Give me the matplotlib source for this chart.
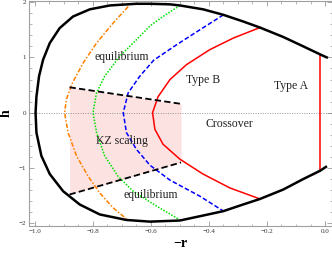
import numpy as np
import matplotlib.pyplot as plt
from matplotlib.ticker import MultipleLocator

plt.rcParams['font.family'] = ['Liberation Serif', 'DejaVu Serif']

# outer boundary (black), from the right end, over the top, around and back
black_x = [0.006, -0.015, -0.075, -0.144, -0.224, -0.282, -0.35, -0.42, -0.5, -0.534, -0.603, -0.65,
           -0.741, -0.81, -0.868, -0.914, -0.948, -0.971, -0.985, -0.994, -0.997, -0.994, -0.977,
           -0.948, -0.902, -0.845, -0.776, -0.684, -0.603, -0.5, -0.42, -0.35, -0.282, -0.224,
           -0.144, -0.075, -0.017, 0.003]
black_h = [1.0, 1.05, 1.2, 1.37, 1.54, 1.65, 1.77, 1.87, 1.94, 1.96, 1.97, 1.97,
           1.94, 1.87, 1.74, 1.53, 1.26, 0.96, 0.66, 0.29, 0.0, -0.36, -0.78,
           -1.11, -1.42, -1.66, -1.84, -1.94, -1.97, -1.95, -1.86, -1.78, -1.66, -1.56,
           -1.39, -1.2, -1.05, -0.98]

red_x = [-0.224, -0.316, -0.397, -0.477, -0.534, -0.575, -0.594, -0.586, -0.558, -0.5, -0.42, -0.328, -0.224]
red_h = [1.54, 1.35, 1.14, 0.87, 0.6, 0.29, 0.0, -0.3, -0.57, -0.84, -1.11, -1.36, -1.56]
redv_x = [-0.017, -0.017]
redv_h = [1.05, -1.05]

blue_x = [-0.35, -0.431, -0.511, -0.59, -0.638, -0.678, -0.695, -0.684, -0.65, -0.603, -0.534, -0.431, -0.35]
blue_h = [1.77, 1.5, 1.23, 0.95, 0.66, 0.36, 0.0, -0.36, -0.66, -0.95, -1.22, -1.51, -1.78]

green_x = [-0.5, -0.558, -0.603, -0.638, -0.707, -0.759, -0.787, -0.799, -0.787, -0.759, -0.713,
           -0.661, -0.58, -0.506]
green_h = [1.94, 1.74, 1.57, 1.38, 1.02, 0.66, 0.36, 0.0, -0.36, -0.78, -1.15,
           -1.42, -1.69, -1.92]

orange_x = [-0.678, -0.73, -0.787, -0.833, -0.87, -0.891, -0.897, -0.885, -0.856, -0.816, -0.776, -0.73, -0.684]
orange_h = [1.92, 1.62, 1.26, 0.9, 0.54, 0.24, 0.0, -0.36, -0.78, -1.15, -1.45, -1.72, -1.92]

# KZ scaling window
kz_x = [-0.88, -0.496]
kz_top = [0.46, 0.16]
kz_bot = [-1.48, -0.9]

fig = plt.figure(figsize=(3.32, 2.56), dpi=100)
ax = fig.add_axes([0.087, 0.117, 0.913, 0.879])

ax.fill_between(kz_x, kz_bot, kz_top, color='#fde2e2', lw=0, zorder=1)
ax.axhline(0, color='#777777', lw=0.5, ls=(0, (1.5, 2.0)), zorder=2)

line_kw = dict(solid_joinstyle='round', dash_joinstyle='round', zorder=3)
ax.plot(orange_x, orange_h, color='#ff8000', lw=1.1, ls=(0, (3, 1.2, 1, 1.2)), **line_kw)
ax.plot(green_x, green_h, color='#00e000', lw=1.1, ls=(0, (1, 1)), **line_kw)
ax.plot(blue_x, blue_h, color='#0000ff', lw=1.1, ls=(0, (3, 1.5)), **line_kw)
ax.plot(red_x, red_h, color='#ff0000', lw=1.1, **line_kw)
ax.plot(redv_x, redv_h, color='#ff0000', lw=1.1, **line_kw)
ax.plot(kz_x, kz_top, color='black', lw=1.3, ls=(0, (3.5, 1.8)), zorder=4)
ax.plot(kz_x, kz_bot, color='black', lw=1.3, ls=(0, (3.5, 1.8)), zorder=4)
ax.plot(black_x, black_h, color='black', lw=1.8, zorder=5, solid_joinstyle='round')

fs = 8.5
ax.text(-0.70, 1.0, 'equilibrium', fontsize=fs, ha='center', va='center', color='#222222')
ax.text(-0.60, -1.49, 'equilibrium', fontsize=fs, ha='center', va='center', color='#222222')
ax.text(-0.70, -0.51, 'KZ scaling', fontsize=fs, ha='center', va='center', color='#222222')
ax.text(-0.42, 0.6, 'Type B', fontsize=fs, ha='center', va='center', color='#222222')
ax.text(-0.117, 0.49, 'Type A', fontsize=fs, ha='center', va='center', color='#222222')
ax.text(-0.33, -0.2, 'Crossover', fontsize=fs, ha='center', va='center', color='#222222')

ax.set_xlim(-1.02, 0.024)
ax.set_ylim(-2.05, 2.02)
ax.xaxis.set_major_locator(MultipleLocator(0.2))
ax.xaxis.set_minor_locator(MultipleLocator(0.05))
ax.yaxis.set_major_locator(MultipleLocator(1))
ax.yaxis.set_minor_locator(MultipleLocator(0.2))
ax.xaxis.set_major_formatter(plt.FuncFormatter(lambda v, p: f'{v:.1f}'.replace('-', '\u2212')))
ax.yaxis.set_major_formatter(plt.FuncFormatter(lambda v, p: f'{v:.0f}'.replace('-', '\u2212')))
ax.tick_params(which='both', direction='in', top=True, right=True, color='#999999',
               labelsize=5, labelcolor='#333333', pad=2)
ax.tick_params(which='major', length=3.5, width=0.6)
ax.tick_params(which='minor', length=1.8, width=0.5)
for s in ax.spines.values():
    s.set_color('#a0a0a0')
    s.set_linewidth(0.8)

ax.set_xlabel('\u2212r', fontsize=10, fontweight='bold', labelpad=2)
ax.set_ylabel('h', fontsize=10, fontweight='bold', labelpad=4)

fig.savefig('out.png', dpi=100)
